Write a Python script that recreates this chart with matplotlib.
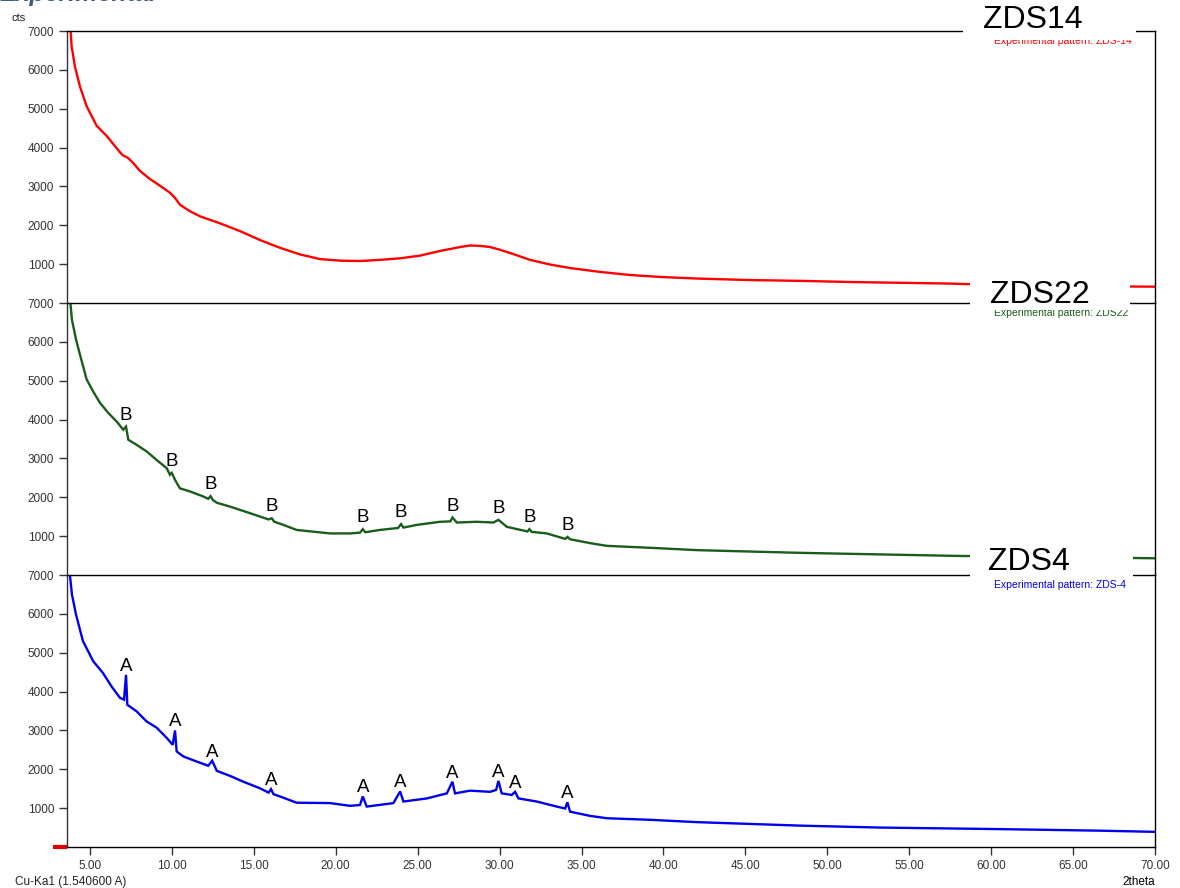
import matplotlib
matplotlib.use("Agg")
import matplotlib.pyplot as plt
import numpy as np
from matplotlib.patches import Rectangle

plt.rcParams['font.family'] = ['Liberation Sans', 'DejaVu Sans']

# ---- diffraction patterns: 2theta (deg) vs intensity (cts) ----
zds14_theta = [3.72, 3.88, 4.08, 4.39, 4.80, 5.41, 6.02, 6.50, 6.83, 7.01, 7.30, 7.60,
               8.05, 8.66, 9.27, 9.88, 10.20, 10.49, 11.11, 11.72, 12.94, 14.16, 15.38,
               16.60, 17.82, 19.04, 20.26, 21.48, 22.70, 23.93, 25.15, 26.37, 27.59,
               28.20, 28.81, 29.42, 30.03, 30.90, 31.86, 33.08, 34.30, 36.14, 37.97,
               39.80, 42.03, 45.29, 48.35, 51.40, 54.45, 57.50, 60.56, 63.61, 66.66, 70.00]
zds14_cts = [7600, 6610, 6090, 5570, 5060, 4560, 4300, 4050, 3880, 3800, 3740, 3620,
             3400, 3190, 3020, 2840, 2700, 2530, 2360, 2230, 2050, 1850, 1620,
             1420, 1250, 1130, 1090, 1080, 1110, 1150, 1220, 1340, 1440,
             1480, 1470, 1440, 1370, 1250, 1110, 990, 900, 800, 720,
             670, 630, 590, 570, 540, 520, 500, 460, 450, 430, 420]

zds22_theta = [3.74, 3.90, 4.15, 4.39, 4.80, 5.20, 5.61, 6.12, 6.63, 7.03, 7.20, 7.34,
               7.85, 8.46, 9.07, 9.68, 9.88, 9.99, 10.19, 10.49, 11.11, 11.92, 12.22,
               12.36, 12.50, 12.74, 13.55, 14.77, 15.90, 16.09, 16.25, 16.80, 17.61,
               19.65, 20.87, 21.48, 21.65, 21.80, 22.70, 23.80, 23.99, 24.13, 24.95,
               26.37, 27.00, 27.12, 27.39, 28.61, 29.62, 29.93, 30.44, 31.70, 31.82,
               31.95, 32.88, 34.00, 34.14, 34.30, 35.53, 36.55, 39.19, 42.03, 48.35,
               54.45, 58.11, 63.61, 66.66, 70.00]
zds22_cts = [7300, 6570, 6060, 5670, 5030, 4720, 4430, 4170, 3950, 3740, 3820, 3480,
             3350, 3180, 2960, 2750, 2580, 2630, 2450, 2230, 2150, 2020, 1960,
             2030, 1930, 1860, 1760, 1590, 1430, 1460, 1370, 1290, 1160,
             1070, 1070, 1090, 1180, 1100, 1160, 1210, 1310, 1220, 1290,
             1370, 1380, 1480, 1350, 1370, 1350, 1420, 1240, 1120, 1180,
             1110, 1070, 930, 980, 920, 820, 750, 700, 640, 570,
             520, 490, 470, 450, 430]

zds4_theta = [3.70, 3.90, 4.15, 4.57, 5.20, 5.79, 6.32, 6.83, 7.08, 7.20, 7.28, 7.85,
              8.46, 9.07, 9.68, 10.05, 10.19, 10.29, 10.70, 11.51, 12.22, 12.46, 12.74,
              13.55, 14.36, 15.38, 15.90, 16.05, 16.20, 16.60, 17.61, 19.65, 20.87,
              21.48, 21.65, 21.89, 23.52, 23.93, 24.13, 25.56, 26.78, 27.12, 27.28,
              28.20, 29.42, 29.79, 29.93, 30.13, 30.74, 30.95, 31.15, 32.27, 33.49,
              34.00, 34.14, 34.30, 35.53, 36.55, 39.19, 42.03, 48.35, 53.23, 60.56,
              66.66, 70.00]
zds4_cts = [7300, 6500, 5980, 5300, 4780, 4480, 4130, 3840, 3790, 4430, 3660, 3490,
            3230, 3070, 2810, 2630, 3000, 2460, 2330, 2200, 2090, 2220, 1960,
            1830, 1680, 1510, 1400, 1490, 1360, 1300, 1140, 1130, 1060,
            1080, 1300, 1040, 1130, 1430, 1170, 1250, 1380, 1680, 1380,
            1450, 1420, 1470, 1700, 1380, 1340, 1420, 1250, 1170, 1040,
            990, 1150, 910, 800, 740, 700, 640, 550, 500, 460,
            420, 390]

# reflections marked on the patterns
phase_b_theta = [7.20, 9.99, 12.36, 16.09, 21.65, 23.99, 27.12, 29.93, 31.82, 34.14]
phase_a_theta = [7.20, 10.19, 12.46, 16.05, 21.65, 23.93, 27.12, 29.93, 30.95, 34.14]

x_ticks = [5, 10, 15, 20, 25, 30, 35, 40, 45, 50, 55, 60, 65, 70]
y_ticks = [1000, 2000, 3000, 4000, 5000, 6000, 7000]

panels = [
    ("ZDS14", "Experimental pattern: ZDS-14", zds14_theta, zds14_cts, "#ff0000", None, None, 0),
    ("ZDS22", "Experimental pattern: ZDS22", zds22_theta, zds22_cts, "#1a5c1a", "B", phase_b_theta, 5),
    ("ZDS4", "Experimental pattern: ZDS-4", zds4_theta, zds4_cts, "#0000ee", "A", phase_a_theta, 3),
]

W, H = 1180, 888
fig = plt.figure(figsize=(W / 100, H / 100), dpi=100)
fig.patch.set_facecolor("white")


def fx(px):
    return px / W


def fy(py):
    return 1 - py / H


x_left, x_right = 66.7, 1155
panel_tops = [31, 303, 575]
panel_h = 272

axes = []
for i, (name, desc, th, ct, col, letter, peaks, lift) in enumerate(panels):
    top = panel_tops[i]
    ax = fig.add_axes([fx(x_left), fy(top + panel_h), fx(x_right - x_left), panel_h / H])
    ax.plot(th, ct, color=col, lw=1.7, solid_joinstyle="miter")
    ax.set_xlim(3.58, 70)
    ax.set_ylim(0, 7000)
    ax.set_yticks(y_ticks)
    ax.set_yticklabels([str(v) for v in y_ticks])
    for s in ["top", "right", "left", "bottom"]:
        ax.spines[s].set_linewidth(1.0)
        ax.spines[s].set_color("black")
    ax.spines["left"].set_color("#333333")
    if i < 2:
        ax.spines["bottom"].set_visible(False)
        ax.tick_params(axis="x", bottom=False, labelbottom=False)
    ax.tick_params(axis="y", direction="out", length=6, width=1, pad=3,
                   labelsize=8.5, color="#333333", labelcolor="#333333")
    if peaks is not None:
        for p in peaks:
            ax.annotate(letter, xy=(p, np.interp(p, th, ct)), xytext=(0, lift),
                        textcoords="offset points", ha="center", va="baseline",
                        fontsize=13.5, color="black")
    axes.append(ax)

axb = axes[-1]
axb.set_xticks(x_ticks)
axb.set_xticklabels([f"{v:.2f}" for v in x_ticks])
axb.tick_params(axis="x", direction="out", length=6, width=1, pad=3,
                labelsize=8.5, color="#333333", labelcolor="#333333")
axb.plot([2.74, 3.58], [0, 0], color="#e00000", lw=3, clip_on=False, solid_capstyle="butt")

# sample description texts (partly hidden by the name boxes)
desc_pos = [(1132, 44), (1128, 316), (1126, 588)]
for (name, desc, th, ct, col, letter, peaks, lift), (px, py) in zip(panels, desc_pos):
    fig.text(fx(px), fy(py), desc, ha="right", va="baseline", fontsize=7.5,
             color=col, zorder=3)

# white name boxes over the panel borders
boxes = [(963, -5, 1136, 40), (970, 276, 1130, 310), (970, 545, 1133, 577)]
for x0, y0, x1, y1 in boxes:
    fig.patches.append(Rectangle((fx(x0), fy(y1)), fx(x1 - x0), (y1 - y0) / H,
                                 transform=fig.transFigure, facecolor="white",
                                 edgecolor="none", zorder=4))

name_pos = [(983, 28.3), (990, 303.3), (988, 570)]
for (name, *_), (px, py) in zip(panels, name_pos):
    fig.text(fx(px), fy(py), name, ha="left", va="baseline", fontsize=23,
             color="black", zorder=5)

fig.text(fx(12), fy(21), "cts", ha="left", va="baseline", fontsize=8, color="#222222")
fig.text(fx(15), fy(885), "Cu-Ka1 (1.540600 A)", ha="left", va="baseline",
         fontsize=8.5, color="#222222")
fig.text(fx(1155), fy(885), "2theta", ha="right", va="baseline", fontsize=8.5,
         color="black")
fig.text(fx(0), fy(1.0), "Experimental", ha="left", va="baseline", fontsize=18,
         style="italic", weight="bold", color="#3d5a80")

fig.savefig("out.png", dpi=100, facecolor="white")
